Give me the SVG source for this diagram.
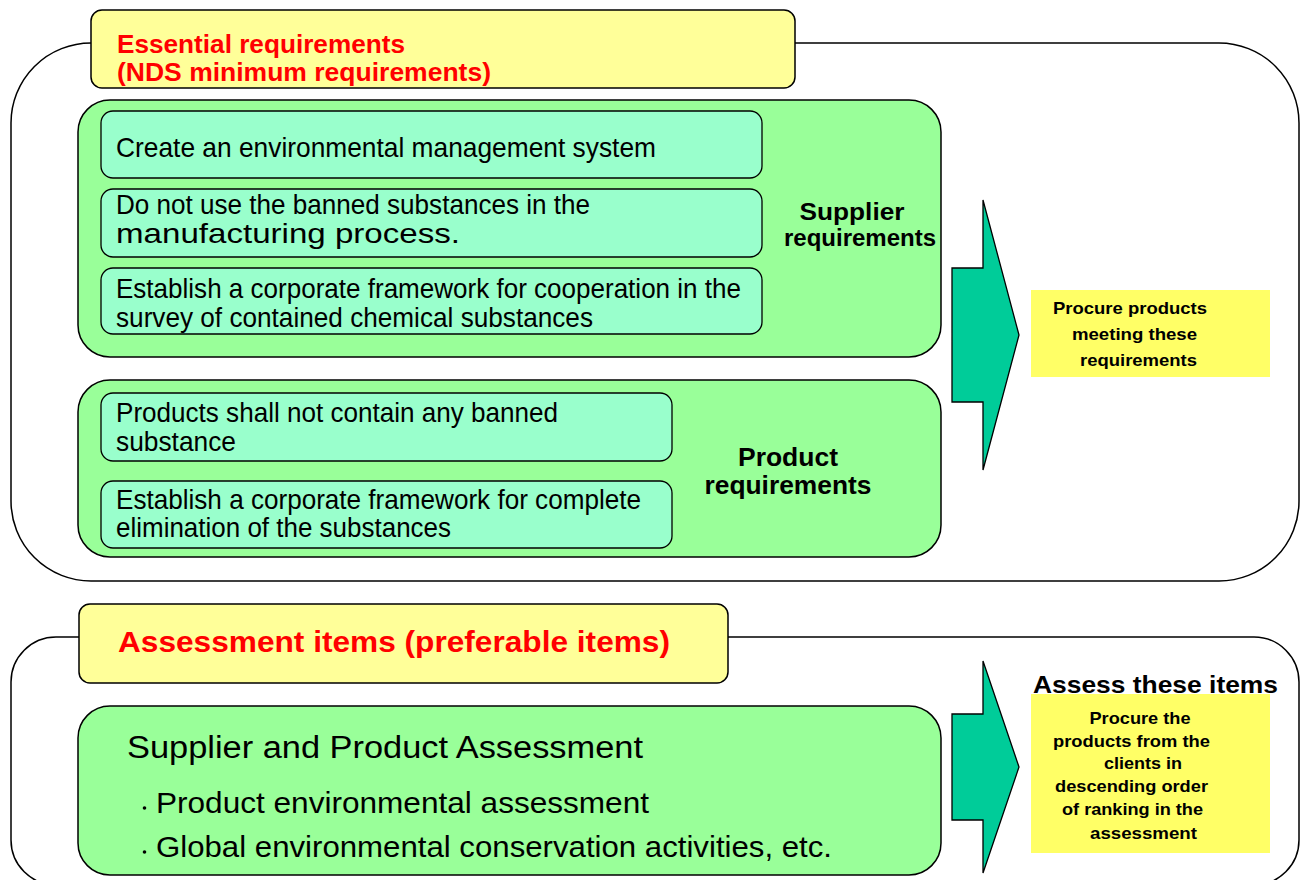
<svg xmlns="http://www.w3.org/2000/svg" width="1306" height="880" viewBox="0 0 1306 880">
<style>
.frame{fill:#ffffff;stroke:#000;stroke-width:1.5}
.tab{fill:#ffff99;stroke:#000;stroke-width:1.5}
.grp{fill:#99ff99;stroke:#000;stroke-width:1.5}
.item{fill:#99ffcc;stroke:#000;stroke-width:1.3}
.note{fill:#ffff66}
.arrow{fill:#00cc99;stroke:#000;stroke-width:1.3}
text{font-family:"Liberation Sans",Arial,sans-serif;fill:#000}
.red{fill:#ff0000;font-weight:bold}
.t{font-size:27.5px}
.b{font-weight:bold}
.s{font-size:17px;font-weight:bold}
</style>
<rect width="1306" height="880" fill="#fff"/>

<g id="essential-frame">
<rect class="frame" x="11" y="43" width="1288" height="538" rx="80" ry="80"/>
</g>
<g id="essential-tab">
<rect class="tab" x="91" y="10" width="704" height="78" rx="11"/>
<text class="red" font-size="25.5" x="117" y="53" textLength="288" lengthAdjust="spacingAndGlyphs">Essential requirements</text>
<text class="red" font-size="25.5" x="117" y="81" textLength="374" lengthAdjust="spacingAndGlyphs">(NDS minimum requirements)</text>
</g>

<g id="supplier-requirements">
<rect class="grp" x="78" y="100" width="863" height="257" rx="32"/>
<text class="b" font-size="24" x="852" y="220" text-anchor="middle" textLength="105" lengthAdjust="spacingAndGlyphs">Supplier</text>
<text class="b" font-size="24" x="860" y="246" text-anchor="middle" textLength="152" lengthAdjust="spacingAndGlyphs">requirements</text>
</g>
<g id="item-ems">
<rect class="item" x="101" y="111" width="661" height="67" rx="12"/>
<text class="t" x="116" y="157" textLength="540" lengthAdjust="spacingAndGlyphs">Create an environmental management system</text>
</g>
<g id="item-banned-process">
<rect class="item" x="101" y="189" width="661" height="68" rx="12"/>
<text class="t" x="116" y="214" textLength="474" lengthAdjust="spacingAndGlyphs">Do not use the banned substances in the</text>
<text class="t" x="116" y="243" textLength="344" lengthAdjust="spacingAndGlyphs">manufacturing process.</text>
</g>
<g id="item-survey">
<rect class="item" x="101" y="268" width="661" height="66" rx="12"/>
<text class="t" x="116" y="298" textLength="625" lengthAdjust="spacingAndGlyphs">Establish a corporate framework for cooperation in the</text>
<text class="t" x="116" y="327" textLength="477" lengthAdjust="spacingAndGlyphs">survey of contained chemical substances</text>
</g>

<g id="product-requirements">
<rect class="grp" x="78" y="380" width="863" height="177" rx="32"/>
<text class="b" font-size="25" x="788" y="466" text-anchor="middle" textLength="100" lengthAdjust="spacingAndGlyphs">Product</text>
<text class="b" font-size="25" x="788" y="494" text-anchor="middle" textLength="167" lengthAdjust="spacingAndGlyphs">requirements</text>
</g>
<g id="item-no-banned">
<rect class="item" x="101" y="393" width="571" height="68" rx="12"/>
<text class="t" x="116" y="422" textLength="442" lengthAdjust="spacingAndGlyphs">Products shall not contain any banned</text>
<text class="t" x="116" y="451" textLength="120" lengthAdjust="spacingAndGlyphs">substance</text>
</g>
<g id="item-elimination">
<rect class="item" x="101" y="481" width="571" height="67" rx="12"/>
<text class="t" x="116" y="509" textLength="525" lengthAdjust="spacingAndGlyphs">Establish a corporate framework for complete</text>
<text class="t" x="116" y="537" textLength="335" lengthAdjust="spacingAndGlyphs">elimination of the substances</text>
</g>

<g id="procure-note">
<rect class="note" x="1031" y="290" width="239" height="87"/>
<text class="s" x="1130" y="314" text-anchor="middle" textLength="154" lengthAdjust="spacingAndGlyphs">Procure products</text>
<text class="s" x="1134.5" y="340" text-anchor="middle" textLength="125" lengthAdjust="spacingAndGlyphs">meeting these</text>
<text class="s" x="1138.5" y="366" text-anchor="middle" textLength="117" lengthAdjust="spacingAndGlyphs">requirements</text>
</g>

<g id="assessment-frame">
<rect class="frame" x="11" y="637" width="1288" height="248" rx="45" ry="45"/>
</g>
<g id="assessment-tab">
<rect class="tab" x="79" y="604" width="649" height="79" rx="11"/>
<text class="red" font-size="29" x="118" y="652" textLength="552" lengthAdjust="spacingAndGlyphs">Assessment items (preferable items)</text>
</g>

<g id="supplier-product-assessment">
<rect class="grp" x="78" y="706" width="863" height="169" rx="32"/>
<text font-size="31" x="127" y="758" textLength="516" lengthAdjust="spacingAndGlyphs">Supplier and Product Assessment</text>
<circle cx="144.5" cy="808" r="1.8" fill="#000"/>
<text font-size="29" x="156" y="813" textLength="493" lengthAdjust="spacingAndGlyphs">Product environmental assessment</text>
<circle cx="144.5" cy="852" r="1.8" fill="#000"/>
<text font-size="29" x="156" y="857" textLength="676" lengthAdjust="spacingAndGlyphs">Global environmental conservation activities, etc.</text>
</g>

<g id="assess-note">
<rect class="note" x="1031" y="694" width="239" height="159"/>
<text class="b" font-size="24" x="1033" y="693" textLength="245" lengthAdjust="spacingAndGlyphs">Assess these items</text>
<text class="s" x="1140" y="724" text-anchor="middle" textLength="101" lengthAdjust="spacingAndGlyphs">Procure the</text>
<text class="s" x="1131.5" y="747" text-anchor="middle" textLength="157" lengthAdjust="spacingAndGlyphs">products from the</text>
<text class="s" x="1143" y="769" text-anchor="middle" textLength="78" lengthAdjust="spacingAndGlyphs">clients in</text>
<text class="s" x="1131.5" y="792" text-anchor="middle" textLength="153" lengthAdjust="spacingAndGlyphs">descending order</text>
<text class="s" x="1132.5" y="815" text-anchor="middle" textLength="141" lengthAdjust="spacingAndGlyphs">of ranking in the</text>
<text class="s" x="1143.5" y="839" text-anchor="middle" textLength="107" lengthAdjust="spacingAndGlyphs">assessment</text>
</g>

<g id="connectors">
<polygon class="arrow" points="952,268 983,268 983,200 1019,335 983,470 983,402 952,402"/>
<polygon class="arrow" points="952,714 983,714 983,661 1019,767 983,873 983,820 952,820"/>
</g>
</svg>
